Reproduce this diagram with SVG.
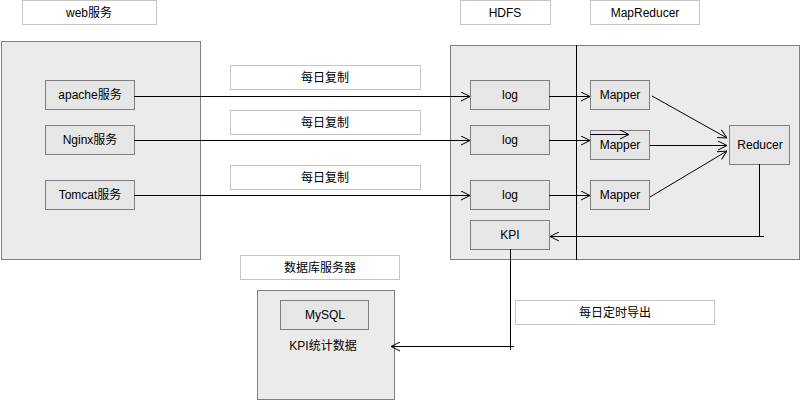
<svg xmlns="http://www.w3.org/2000/svg" width="800" height="400" viewBox="0 0 800 400">
<defs>
<marker id="arr" viewBox="0 0 10 10" refX="10" refY="5" markerWidth="10" markerHeight="10" markerUnits="userSpaceOnUse" orient="auto">
<polyline points="1,0.5 10,5 1,9.5" fill="none" stroke="#000" stroke-width="1"/>
</marker>
<style>
.lbl{fill:#fff;stroke:#c4c4c4;stroke-width:1}
.lbltop{stroke:#8c8c8c;stroke-width:1}
.grp{fill:#ebebeb;stroke:#7f7f7f;stroke-width:1}
.box{fill:#e6e6e6;stroke:#7f7f7f;stroke-width:1}
text{font-family:"Liberation Sans","Noto Sans CJK SC",sans-serif;font-size:12px;fill:#000;text-anchor:middle;dominant-baseline:central}
.ln{fill:none;stroke:#000;stroke-width:1}
</style>
</defs>
<rect width="800" height="400" fill="#fff"/>

<g id="label-web"><rect class="lbl" x="22.5" y="0.5" width="134" height="24"/><text x="89" y="13">web服务</text></g>
<g id="label-hdfs"><rect class="lbl" x="460.5" y="0.5" width="90" height="24"/><text x="505" y="13">HDFS</text></g>
<g id="label-mr"><rect class="lbl" x="590.5" y="0.5" width="109" height="24"/><text x="645" y="13">MapReducer</text></g>
<g id="label-db"><rect class="lbl" x="240.5" y="255.5" width="159" height="24"/><text x="320" y="268">数据库服务器</text></g>
<g id="label-copy1"><rect class="lbl" x="230.5" y="65.5" width="190" height="24"/><text x="325" y="78">每日复制</text></g>
<g id="label-copy2"><rect class="lbl" x="230.5" y="110.5" width="190" height="24"/><text x="325" y="123">每日复制</text></g>
<g id="label-copy3"><rect class="lbl" x="230.5" y="165.5" width="190" height="24"/><text x="325" y="178">每日复制</text></g>
<g id="label-export"><rect class="lbl" x="515.5" y="300.5" width="199" height="24"/><text x="615" y="313">每日定时导出</text></g>

<g id="web-group"><rect class="grp" x="1.5" y="41.5" width="199" height="218"/></g>
<g id="hadoop-group"><rect class="grp" x="450.5" y="45.5" width="349" height="214"/><line class="ln" x1="576.5" y1="45" x2="576.5" y2="260"/></g>
<g id="db-group"><rect class="grp" x="257.5" y="290.5" width="137" height="109"/><text x="323" y="346">KPI统计数据</text></g>

<g id="apache"><rect class="box" x="45.5" y="80.5" width="89" height="29"/><text x="90" y="95">apache服务</text></g>
<g id="nginx"><rect class="box" x="45.5" y="125.5" width="89" height="29"/><text x="90" y="140">Nginx服务</text></g>
<g id="tomcat"><rect class="box" x="45.5" y="180.5" width="89" height="29"/><text x="90" y="195">Tomcat服务</text></g>

<g id="log1"><rect class="box" x="470.5" y="80.5" width="79" height="29"/><text x="510" y="95">log</text></g>
<g id="log2"><rect class="box" x="470.5" y="125.5" width="79" height="29"/><text x="510" y="140">log</text></g>
<g id="log3"><rect class="box" x="470.5" y="180.5" width="79" height="29"/><text x="510" y="195">log</text></g>
<g id="kpi"><rect class="box" x="470.5" y="220.5" width="79" height="29"/><text x="510" y="235">KPI</text></g>

<g id="mapper1"><rect class="box" x="590.5" y="80.5" width="59" height="29"/><text x="620" y="95">Mapper</text></g>
<g id="mapper2"><rect class="box" x="590.5" y="130.5" width="59" height="29"/><text x="620" y="145">Mapper</text></g>
<g id="mapper3"><rect class="box" x="590.5" y="180.5" width="59" height="29"/><text x="620" y="195">Mapper</text></g>
<g id="reducer"><rect class="box" x="729.5" y="125.5" width="60" height="39"/><text x="760" y="145">Reducer</text></g>

<g id="mysql"><rect class="box" x="280.5" y="300.5" width="88" height="29"/><text x="325" y="315">MySQL</text></g>

<g id="connectors">
<line class="ln" x1="134" y1="96.5" x2="470" y2="96.5" marker-end="url(#arr)"/>
<line class="ln" x1="134" y1="140.5" x2="470" y2="140.5" marker-end="url(#arr)"/>
<line class="ln" x1="134" y1="195.5" x2="470" y2="195.5" marker-end="url(#arr)"/>
<line class="ln" x1="549" y1="96.5" x2="590" y2="96.5" marker-end="url(#arr)"/>
<line class="ln" x1="549" y1="140.5" x2="590" y2="140.5" marker-end="url(#arr)"/>
<line class="ln" x1="549" y1="195.5" x2="590" y2="195.5" marker-end="url(#arr)"/>
<line class="ln" x1="590" y1="134.5" x2="629" y2="134.5" marker-end="url(#arr)"/>
<line class="ln" x1="652" y1="96" x2="727" y2="138" marker-end="url(#arr)"/>
<line class="ln" x1="650" y1="145.5" x2="727" y2="145.5" marker-end="url(#arr)"/>
<line class="ln" x1="650" y1="197" x2="727" y2="151" marker-end="url(#arr)"/>
<line class="ln" x1="759.5" y1="164" x2="759.5" y2="236"/>
<line class="ln" x1="764" y1="236.5" x2="550" y2="236.5" marker-end="url(#arr)"/>
<line class="ln" x1="510.5" y1="249" x2="510.5" y2="350"/>
<line class="ln" x1="514" y1="346.5" x2="391" y2="346.5" marker-end="url(#arr)"/>
</g>
</svg>
